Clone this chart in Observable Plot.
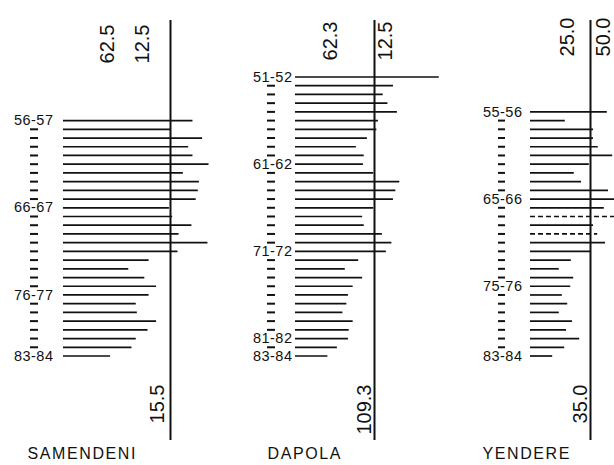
<!DOCTYPE html>
<html>
<head>
<meta charset="utf-8">
<script src="https://cdn.jsdelivr.net/npm/d3@7"></script>
<script src="https://cdn.jsdelivr.net/npm/@observablehq/plot@0.6"></script>
<style>
  body { margin: 0; background: #fff; }
  #wrap { position: relative; width: 614px; height: 465px; overflow: hidden; background: #fff; }
  #wrap svg { position: absolute; top: 0; }
</style>
</head>
<body>
<div id="wrap"></div>
<script>
// Annual values, as % of the station mean (vertical line = 100)
const stationNames = ["SAMENDENI", "DAPOLA", "YENDERE"];

const samendeniStart = 1956;
const samendeniValues = [121, 100, 130, 117, 121, 136, 112, 127, 126, 124, 99, 102, 120, 108, 135, 107, 80, 61, 76, 87, 80, 68, 69, 87, 79, 68, 64, 44];
const samendeniLabelYears = [1956, 1966, 1976, 1983];
const samendeniDashed = [];
const samendeniTopNotes = [{text: "62.5", at: 41}, {text: "12.5", at: 74}];
const samendeniBottomNotes = [{text: "15.5", at: 88}];

const dapolaStart = 1951;
const dapolaValues = [182, 124, 111, 117, 129, 105, 103, 91, 77, 87, 86, 99, 132, 127, 124, 99, 85, 87, 110, 122, 115, 80, 63, 85, 73, 67, 65, 60, 73, 68, 67, 53, 41];
const dapolaLabelYears = [1951, 1961, 1971, 1981, 1983];
const dapolaDashed = [];
const dapolaTopNotes = [{text: "62.3", at: 44}, {text: "12.5", at: 114}];
const dapolaBottomNotes = [{text: "109.3", at: 87}];

const yendereStart = 1955;
const yendereValues = [128, 58, 105, 105, 113, 137, 98, 73, 85, 130, 145, 123, 145, 105, 112, 125, 100, 68, 48, 72, 67, 53, 62, 48, 70, 60, 82, 57, 37];
const yendereLabelYears = [1955, 1965, 1975, 1983];
const yendereDashed = [1967, 1969];
const yendereTopNotes = [{text: "25.0", at: 62}, {text: "50.0", at: 122}];
const yendereBottomNotes = [{text: "35.0", at: 83}];

const panels = [
  {name: stationNames[0], start: samendeniStart, values: samendeniValues, labelYears: samendeniLabelYears, dashed: samendeniDashed, top: samendeniTopNotes, bottom: samendeniBottomNotes,
   left: 0, width: 220, marginLeft: 63, marginRight: 50, tickDx: -25, tickSize: 8, labelPad: 10, titleDx: -36, topY: 24},
  {name: stationNames[1], start: dapolaStart, values: dapolaValues, labelYears: dapolaLabelYears, dashed: dapolaDashed, top: dapolaTopNotes, bottom: dapolaBottomNotes,
   left: 210, width: 240, marginLeft: 85, marginRight: 76, tickDx: -20, tickSize: 8, labelPad: 3, titleDx: -28, topY: 21},
  {name: stationNames[2], start: yendereStart, values: yendereValues, labelYears: yendereLabelYears, dashed: yendereDashed, top: yendereTopNotes, bottom: yendereBottomNotes,
   left: 420, width: 194, marginLeft: 110, marginRight: 24, tickDx: -25, tickSize: 7, labelPad: 8, titleDx: -48, topY: 17}
];

const pad2 = n => String(n % 100).padStart(2, "0");
const fmtYear = y => `${pad2(y)}-${pad2(y + 1)}`;
const MT = 76.5, MB = 109.5, H = 465;
const ink = "#111";

const wrap = document.getElementById("wrap");
for (const cfg of panels) {
  const rows = cfg.values.map((v, i) => ({year: cfg.start + i, value: v, dashed: cfg.dashed.includes(cfg.start + i)}));
  const tickYears = rows.map(d => d.year).filter(y => !cfg.labelYears.includes(y));
  const svg = Plot.plot({
    width: cfg.width,
    height: H,
    marginLeft: cfg.marginLeft,
    marginRight: cfg.marginRight,
    marginTop: MT,
    marginBottom: MB,
    x: {domain: [0, 100], axis: null},
    y: {domain: [1951, 1983], reverse: true, label: null},
    style: {background: "transparent", fontFamily: "'Liberation Sans', Arial, sans-serif", fontSize: "14px", color: ink, overflow: "visible"},
    marks: [
      Plot.ruleX([100], {stroke: ink, strokeWidth: 2, insetTop: 20 - MT, insetBottom: -(440 - (H - MB))}),
      Plot.ruleY(rows.filter(d => !d.dashed), {y: "year", x1: 0, x2: "value", stroke: ink, strokeWidth: 1.7}),
      Plot.ruleY(rows.filter(d => d.dashed), {y: "year", x1: 0, x2: "value", stroke: ink, strokeWidth: 1.7, strokeDasharray: "5,3"}),
      Plot.axisY(tickYears, {anchor: "left", tickSize: cfg.tickSize, tickFormat: () => "", dx: cfg.tickDx, stroke: ink, strokeWidth: 2, label: null}),
      Plot.axisY(cfg.labelYears, {anchor: "left", tickSize: 0, tickPadding: cfg.labelPad, tickFormat: fmtYear, fontSize: 14.5, fill: ink, label: null}),
      Plot.text(cfg.top, {x: "at", text: "text", frameAnchor: "top", lineAnchor: "middle", rotate: -90, textAnchor: "end", dy: cfg.topY - MT, fontSize: 20, fill: ink}),
      Plot.text(cfg.bottom, {x: "at", text: "text", frameAnchor: "bottom", lineAnchor: "middle", rotate: -90, textAnchor: "end", dy: 384 - (H - MB), fontSize: 20, fill: ink}),
      Plot.text([cfg.name], {frameAnchor: "bottom-left", textAnchor: "start", dx: cfg.titleDx, dy: 458 - (H - MB), fontSize: 16, fill: ink})
    ]
  });
  svg.style.left = cfg.left + "px";
  d3.select(svg).selectAll("text").filter(function() { return this.textContent === cfg.name; }).attr("letter-spacing", "1.6px");
  d3.select(svg).selectAll("text").filter(function() { return /^\d\d-\d\d$/.test(this.textContent); }).attr("letter-spacing", "0.5px");
  wrap.appendChild(svg);
}
</script>
</body>
</html>
